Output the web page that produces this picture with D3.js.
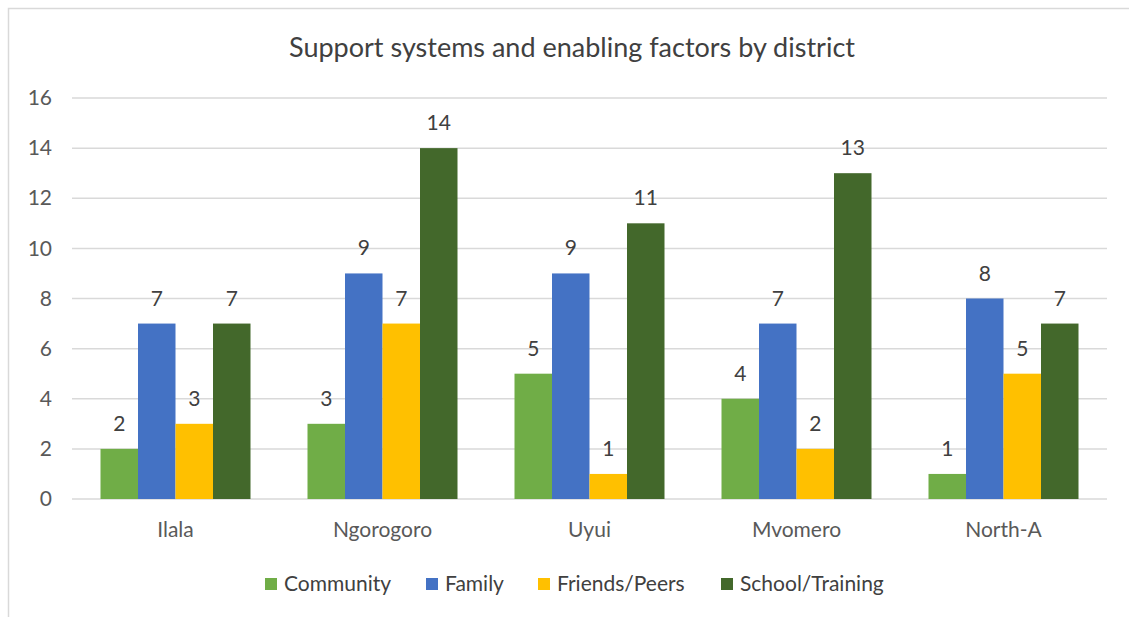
<!DOCTYPE html>
<html>
<head>
<meta charset="utf-8">
<script src="https://cdn.jsdelivr.net/npm/d3@7"></script>
<style>
  html, body { margin: 0; padding: 0; background: #fff; }
  svg { display: block; font-family: Lato, "Open Sans", sans-serif; }
</style>
</head>
<body>
<svg id="chart" width="1129" height="617"></svg>
<script>
// District names along the x axis
const districts = ["Ilala", "Ngorogoro", "Uyui", "Mvomero", "North-A"];
// Series names shown in the legend
const seriesNames = ["Community", "Family", "Friends/Peers", "School/Training"];
// Counts per series, one value per district
const community = [2, 3, 5, 4, 1];
const family = [7, 9, 9, 7, 8];
const friendsPeers = [3, 7, 1, 2, 5];
const schoolTraining = [7, 14, 11, 13, 7];
// Y-axis tick values
const yTicks = [0, 2, 4, 6, 8, 10, 12, 14, 16];

const seriesValues = [community, family, friendsPeers, schoolTraining];
const colors = ["#70AD47", "#4472C4", "#FFC000", "#43682B"];
const textColor = "#595959";
const fontSize = 21;

const svg = d3.select("#chart");

// outer chart frame
svg.append("rect")
  .attr("x", 8.5).attr("y", 8.5)
  .attr("width", 1140).attr("height", 640)
  .attr("fill", "#fff").attr("stroke", "#d9d9d9").attr("stroke-width", 1.5);

const plot = { left: 72, right: 1107, top: 98, bottom: 499 };

const x0 = d3.scaleBand().domain(districts).range([plot.left, plot.right]).paddingInner(0).paddingOuter(0);
const x1 = d3.scaleBand().domain(seriesNames).range([0, x0.bandwidth()]).paddingInner(0).paddingOuter(0.76);
const y = d3.scaleLinear().domain([0, 16]).range([plot.bottom, plot.top]);

// gridlines
svg.append("g").selectAll("line").data(yTicks).join("line")
  .attr("x1", plot.left).attr("x2", plot.right)
  .attr("y1", d => y(d)).attr("y2", d => y(d))
  .attr("stroke", "#d9d9d9").attr("stroke-width", 1.5);

// y tick labels
const yAxis = d3.axisLeft(y).tickValues(yTicks).tickSize(0).tickPadding(0);
const gy = svg.append("g").attr("transform", `translate(${plot.left - 20},0)`).call(yAxis);
gy.select(".domain").remove();
gy.selectAll("text").attr("font-size", fontSize).attr("fill", textColor)
  .attr("font-family", "Lato, sans-serif");

// x category labels
const xAxis = d3.axisBottom(x0).tickSize(0).tickPadding(0);
const gx = svg.append("g").attr("transform", `translate(0,${plot.bottom + 23})`).call(xAxis);
gx.select(".domain").remove();
gx.selectAll("text").attr("font-size", fontSize).attr("fill", textColor)
  .attr("font-family", "Lato, sans-serif");

// bars and value labels
const groups = svg.append("g").selectAll("g").data(districts).join("g")
  .attr("transform", d => `translate(${x0(d)},0)`);

seriesNames.forEach((s, si) => {
  groups.append("rect")
    .attr("x", x1(s))
    .attr("width", x1.bandwidth())
    .attr("y", (d, i) => y(seriesValues[si][i]))
    .attr("height", (d, i) => y(0) - y(seriesValues[si][i]))
    .attr("fill", colors[si]);
  groups.append("text")
    .attr("x", x1(s) + x1.bandwidth() / 2)
    .attr("y", (d, i) => y(seriesValues[si][i]) - 18)
    .attr("text-anchor", "middle")
    .attr("font-size", fontSize)
    .attr("fill", "#404040")
    .text((d, i) => seriesValues[si][i]);
});

// title
svg.append("text")
  .attr("x", 572).attr("y", 57)
  .attr("text-anchor", "middle")
  .attr("font-size", 27)
  .attr("fill", "#404040")
  .text("Support systems and enabling factors by district");

// legend
const legendX = [265, 426, 538, 721];
const legend = svg.append("g").selectAll("g").data(seriesNames).join("g")
  .attr("transform", (d, i) => `translate(${legendX[i]},583)`);
legend.append("rect").attr("x", 0).attr("y", -5).attr("width", 12).attr("height", 12)
  .attr("fill", (d, i) => colors[i]);
legend.append("text").attr("x", 19).attr("y", 8)
  .attr("font-size", fontSize).attr("fill", "#404040")
  .text(d => d);
</script>
</body>
</html>
